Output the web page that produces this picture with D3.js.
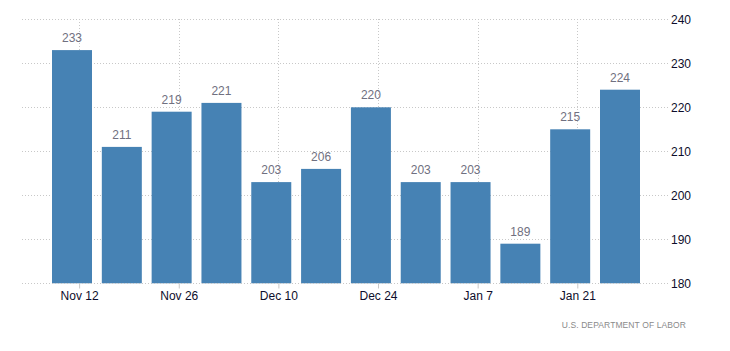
<!DOCTYPE html>
<html>
<head>
<meta charset="utf-8">
<script src="https://cdn.jsdelivr.net/npm/d3@7"></script>
<style>
  html, body { margin: 0; padding: 0; background: #fff; }
  svg { display: block; font-family: "Liberation Sans", Arial, sans-serif; }
</style>
</head>
<body>
<svg id="chart" width="730" height="351"></svg>
<script>
// Week-ending dates (Saturdays)
const weeks = ["2017-11-11","2017-11-18","2017-11-25","2017-12-02","2017-12-09","2017-12-16",
               "2017-12-23","2017-12-30","2018-01-06","2018-01-13","2018-01-20","2018-01-27"];
const claims = [233, 211, 219, 221, 203, 206, 220, 203, 203, 189, 215, 224];
const xTickDates = ["2017-11-12","2017-11-26","2017-12-10","2017-12-24","2018-01-07","2018-01-21"];
const yTicks = [180, 190, 200, 210, 220, 230, 240];
const sourceText = "U.S. DEPARTMENT OF LABOR";

const parse = d3.utcParse("%Y-%m-%d");
const data = weeks.map((w, i) => ({ date: parse(w), value: claims[i] }));

const svg = d3.select("#chart");
const x = d3.scaleUtc()
  .domain([parse(weeks[0]), parse(weeks[weeks.length - 1])])
  .range([72, 620]);
const y = d3.scaleLinear().domain([180, 240]).range([283.3, 19.3]);
const barW = 40;

// horizontal gridlines
svg.append("g").selectAll("line").data(yTicks).join("line")
  .attr("x1", 22).attr("x2", 668)
  .attr("y1", d => Math.round(y(d)) + 0.5).attr("y2", d => Math.round(y(d)) + 0.5)
  .attr("stroke", "#c8c8c8").attr("stroke-dasharray", "1,2").attr("stroke-width", 1);

// vertical gridlines
const tickDates = xTickDates.map(parse);
svg.append("g").selectAll("line").data(tickDates).join("line")
  .attr("x1", d => Math.round(x(d)) + 0.5).attr("x2", d => Math.round(x(d)) + 0.5)
  .attr("y1", 19).attr("y2", 283)
  .attr("stroke", "#c8c8c8").attr("stroke-dasharray", "1,2").attr("stroke-width", 1);

// bars
svg.append("g").selectAll("rect").data(data).join("rect")
  .attr("x", d => x(d.date) - barW / 2)
  .attr("width", barW)
  .attr("y", d => y(d.value))
  .attr("height", d => y(180) - y(d.value))
  .attr("fill", "#4682b4");

// value labels
svg.append("g").selectAll("text").data(data).join("text")
  .attr("x", d => x(d.date))
  .attr("y", d => y(d.value) - 8)
  .attr("text-anchor", "middle")
  .attr("font-size", 12)
  .attr("fill", "#707080")
  .text(d => d.value);

// x axis
const xAxis = d3.axisBottom(x).tickValues(tickDates).tickFormat(d3.utcFormat("%b %-d"))
  .tickSize(5).tickPadding(3);
const gx = svg.append("g").attr("transform", "translate(0,283.5)").call(xAxis);
gx.select(".domain").remove();
gx.selectAll(".tick line").attr("stroke", "#c8c8c8");
gx.selectAll(".tick text").attr("font-size", 12).attr("fill", "#0d0d2b")
  .attr("font-family", "'Liberation Sans', Arial, sans-serif");
svg.append("line").attr("x1", 22).attr("x2", 668).attr("y1", 283.5).attr("y2", 283.5)
  .attr("stroke", "#c8c8c8").attr("stroke-dasharray", "1,2");

// y axis labels
svg.append("g").selectAll("text").data(yTicks).join("text")
  .attr("x", 671)
  .attr("y", d => y(d))
  .attr("dy", "0.35em")
  .attr("font-size", 12)
  .attr("fill", "#0d0d2b")
  .text(d => d);

// source
svg.append("text")
  .attr("x", 686).attr("y", 328)
  .attr("text-anchor", "end")
  .attr("font-size", 8.5)
  .attr("letter-spacing", "0.1px")
  .attr("fill", "#8a8a8a")
  .text(sourceText);
</script>
</body>
</html>
